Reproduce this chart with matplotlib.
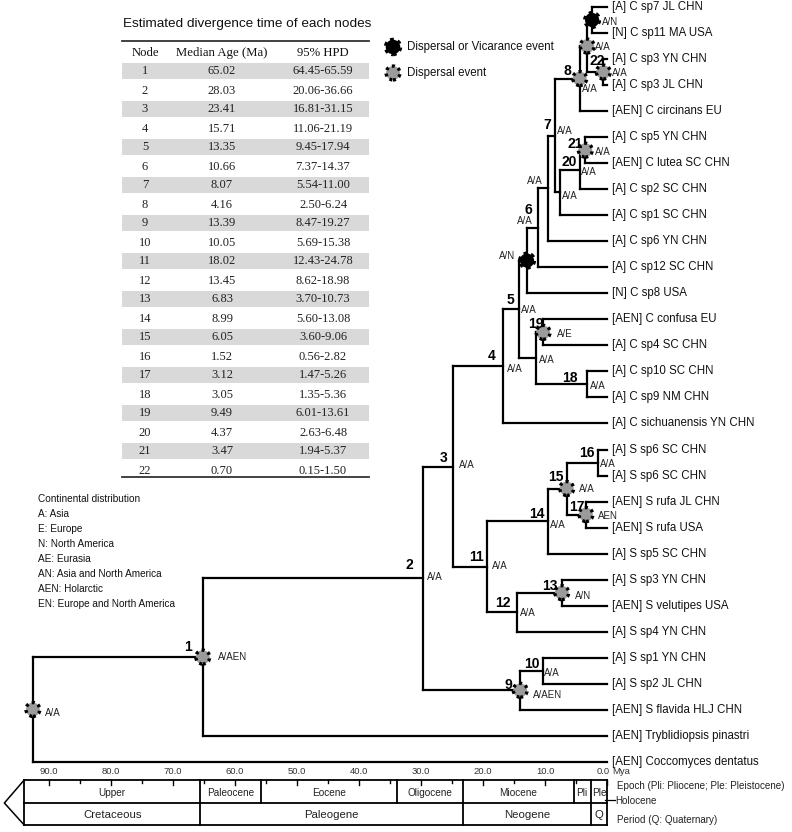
import matplotlib
matplotlib.use("Agg")
import matplotlib.pyplot as plt
from matplotlib.patches import Rectangle

plt.rcParams['font.family'] = ['Liberation Sans', 'DejaVu Sans']

W, H = 792, 832

# ---------------- data ----------------
leaves = ["[A] C sp7 JL CHN", "[N] C sp11 MA USA", "[A] C sp3 YN CHN", "[A] C sp3 JL CHN",
          "[AEN] C circinans EU", "[A] C sp5 YN CHN", "[AEN] C lutea SC CHN", "[A] C sp2 SC CHN",
          "[A] C sp1 SC CHN", "[A] C sp6 YN CHN", "[A] C sp12 SC CHN", "[N] C sp8 USA",
          "[AEN] C confusa EU", "[A] C sp4 SC CHN", "[A] C sp10 SC CHN", "[A] C sp9 NM CHN",
          "[A] C sichuanensis YN CHN", "[A] S sp6 SC CHN", "[A] S sp6 SC CHN", "[AEN] S rufa JL CHN",
          "[AEN] S rufa USA", "[A] S sp5 SC CHN", "[A] S sp3 YN CHN", "[AEN] S velutipes USA",
          "[A] S sp4 YN CHN", "[A] S sp1 YN CHN", "[A] S sp2 JL CHN", "[AEN] S flavida HLJ CHN",
          "[AEN] Tryblidiopsis pinastri", "[AEN] Coccomyces dentatus"]

node_names = ['root', 'n1', 'n2', 'n3', 'n4', 'n5', 'nAN', 'n6', 'n6a', 'n7', 'n8', 'n8a', 'nB',
              'n22', 'n7a', 'n20', 'n21', 'n5b', 'n19', 'n18', 'n11', 'n14', 'n15', 'n16',
              'n17', 'n12', 'n13', 'n9', 'n10']
node_children = [['n1', 29], ['n2', 28], ['n3', 'n9'], ['n4', 'n11'], ['n5', 16], ['nAN', 'n5b'],
                  ['n6', 11], ['n6a', 10], ['n7', 9], ['n8', 'n7a'], ['n8a', 4], ['nB', 'n22'],
                  [0, 1], [2, 3], ['n20', 8], ['n21', 7], [5, 6], ['n19', 'n18'], [12, 13],
                  [14, 15], ['n14', 'n12'], ['n15', 21], ['n16', 'n17'], [17, 18], [19, 20],
                  ['n13', 24], [22, 23], ['n10', 27], [25, 26]]
node_age = [92.6, 65.2, 29.7, 24.8, 16.8, 14.2, 12.9, 11.1, 9.5, 8.4, 4.4, 3.2, 2.4,
            0.6, 7.6, 4.4, 3.5, 11.5, 10.3, 3.2, 19.4, 9.5, 6.5, 1.5,
            3.4, 14.5, 7.3, 14.0, 10.3]
node_number = ['', '1', '2', '3', '4', '5', '', '6', '', '7', '8', '', '',
               '22', '', '20', '21', '', '19', '18', '11', '14', '15', '16',
               '17', '12', '13', '9', '10']
node_area = ['A/A', 'A/AEN', 'A/A', 'A/A', 'A/A', 'A/A', 'A/N', 'A/A', 'A/A', 'A/A', 'A/A', 'A/A', 'A/N',
             'A/A', 'A/A', 'A/A', 'A/A', 'A/A', 'A/E', 'A/A', 'A/A', 'A/A', 'A/A', 'A/A',
             'AEN', 'A/A', 'A/N', 'A/AEN', 'A/A']
node_event = ['D', 'D', '', '', '', '', 'V', '', '', '', 'D', 'D', 'V',
              'D', '', '', 'D', '', 'D', '', '', '', 'D', '',
              'D', '', 'D', 'D', '']

table_node = list(range(1, 23))
table_median = ["65.02", "28.03", "23.41", "15.71", "13.35", "10.66", "8.07", "4.16", "13.39", "10.05",
                "18.02", "13.45", "6.83", "8.99", "6.05", "1.52", "3.12", "3.05", "9.49", "4.37",
                "3.47", "0.70"]
table_hpd = ["64.45-65.59", "20.06-36.66", "16.81-31.15", "11.06-21.19", "9.45-17.94", "7.37-14.37",
             "5.54-11.00", "2.50-6.24", "8.47-19.27", "5.69-15.38", "12.43-24.78", "8.62-18.98",
             "3.70-10.73", "5.60-13.08", "3.60-9.06", "0.56-2.82", "1.47-5.26", "1.35-5.36",
             "6.01-13.61", "2.63-6.48", "1.94-5.37", "0.15-1.50"]

continents = ["Continental distribution", "A: Asia", "E: Europe", "N: North America", "AE: Eurasia",
              "AN: Asia and North America", "AEN: Holarctic", "EN: Europe and North America"]

epoch_names = ["Upper", "Paleocene", "Eocene", "Oligocene", "Miocene", "Pli", "Ple"]
epoch_bounds = [94.0, 65.6, 55.8, 33.8, 23.2, 5.4, 2.6, 0.0]
period_names = ["Cretaceous", "Paleogene", "Neogene", "Q"]
period_bounds = [94.0, 65.6, 23.2, 2.6, 0.0]
major_ticks = [90, 80, 70, 60, 50, 40, 30, 20, 10, 0]
minor_ticks = [85, 75, 65, 55, 45, 35, 25, 15, 5]

# label offsets in pixels (dx, dy down) relative to node junction
num_off = {'n1': (-15, -10), 'n2': (-14, -13), 'n3': (-10, -8.5), 'n4': (-11, -10), 'n5': (-9, -9),
           'n6': (-10, -17.5), 'n7': (-8, -10.5), 'n8': (-12, -7.5), 'n22': (-6, -11.5),
           'n20': (-11, -8), 'n21': (-10, -6.5), 'n19': (-7, -8.5), 'n18': (-17, -6.5),
           'n11': (-10, -9.5), 'n14': (-11, -7.5), 'n15': (-11, -11.5), 'n16': (-11, -9.5),
           'n17': (-9, -7.5), 'n12': (-14, -9.5), 'n13': (-12, -6.5), 'n9': (-12, -5.5),
           'n10': (-11, -7)}
area_off = {'root': (20, 3), 'n1': (30, 0), 'n2': (12, -1), 'n3': (14, -1.5), 'n4': (12, 3),
            'n5': (10, 1), 'nAN': (-20, -5), 'n6': (-13, -6.5), 'n6a': (-13, -7), 'n7': (10, -4.5),
            'n7a': (10, 4), 'n8': (10, 10.5), 'n8a': (16, 1), 'nB': (18, 2), 'n22': (17, 0.5),
            'n20': (9, 2), 'n21': (18, 1.5), 'n5b': (11, 2), 'n19': (22, 1.5), 'n18': (11, 1.5),
            'n11': (13, -0.5), 'n14': (10, 3.5), 'n15': (20, 0.5), 'n16': (10, 1.5),
            'n17': (22, 1.5), 'n12': (11, 0.5), 'n13': (21, 3.5), 'n9': (27, 4.5), 'n10': (9, 2)}

# ---------------- figure ----------------
fig = plt.figure(figsize=(W / 100, H / 100), dpi=100)
PX_PER_MY = 6.2
X0 = 607.0
xlim = (X0 / PX_PER_MY, (X0 - W) / PX_PER_MY)
Y0, DY = 7.0, 26.03

ax = fig.add_axes([0, 0, 1, 1])
ax.set_xlim(*xlim)
ax.set_ylim((H - Y0) / DY, -Y0 / DY)
ax.axis('off')

idx = {n: i for i, n in enumerate(node_names)}
ypos = {}


def get_y(c):
    if isinstance(c, int):
        return float(c)
    if c in ypos:
        return ypos[c]
    ch = node_children[idx[c]]
    ypos[c] = 0.5 * (get_y(ch[0]) + get_y(ch[-1]))
    return ypos[c]


def get_age(c):
    return 0.0 if isinstance(c, int) else node_age[idx[c]]


LW = 1.6
for n in node_names:
    i = idx[n]
    ch = node_children[i]
    a = node_age[i]
    ys = [get_y(c) for c in ch]
    ax.plot([a, a], [min(ys), max(ys)], color='black', lw=LW, solid_capstyle='projecting')
    for c in ch:
        ax.plot([a, get_age(c)], [get_y(c), get_y(c)], color='black', lw=LW,
                solid_capstyle='projecting')

for i, name in enumerate(leaves):
    ax.annotate(name, (0, i), xytext=(5, 0), textcoords='offset pixels', va='center',
                ha='left', fontsize=8.3, color='#111111')

for n in node_names:
    i = idx[n]
    x, y = node_age[i], get_y(n)
    if node_event[i] == 'D':
        ax.scatter([x], [y], s=100, facecolors='#9b9b9b', edgecolors='black', linewidths=2.4,
                   linestyles=(0, (0.9, 1.1)), zorder=5)
    elif node_event[i] == 'V':
        ax.scatter([x], [y], s=105, facecolors='black', edgecolors='black', linewidths=2.8,
                   linestyles=(0, (0.9, 1.0)), zorder=5)
    if node_number[i]:
        dx, dy = num_off[n]
        ax.annotate(node_number[i], (x, y), xytext=(dx, -dy), textcoords='offset pixels',
                    ha='center', va='center', fontsize=10, fontweight='bold', zorder=6)
    if node_area[i]:
        dx, dy = area_off[n]
        ax.annotate(node_area[i], (x, y), xytext=(dx, -dy), textcoords='offset pixels',
                    ha='center', va='center', fontsize=7, color='#222222', zorder=6)

# ---------------- timescale ----------------
ts = fig.add_axes([0, 0, 1, 1])
ts.set_xlim(*xlim)
ts.set_ylim(H, 0)
ts.axis('off')
ts.patch.set_alpha(0)
T1, T2, T3 = 780, 803, 825
lk = dict(color='black', lw=1.3, solid_capstyle='projecting')
ts.plot([epoch_bounds[0], 0], [T1, T1], **lk)
ts.plot([epoch_bounds[0], 0], [T2, T2], **lk)
ts.plot([epoch_bounds[0], 0], [T3, T3], **lk)
ts.plot([epoch_bounds[0], epoch_bounds[0] + 3.2, epoch_bounds[0]], [T1, T2, T3], color='black', lw=1.1)
for b in epoch_bounds:
    ts.plot([b, b], [T1, T2], **lk)
for b in period_bounds:
    ts.plot([b, b], [T2, T3], **lk)
for k, nm in enumerate(epoch_names):
    ts.text(0.5 * (epoch_bounds[k] + epoch_bounds[k + 1]), (T1 + T2) / 2 + 1, nm,
            ha='center', va='center', fontsize=7.2, color='#222222')
for k, nm in enumerate(period_names):
    ts.text(0.5 * (period_bounds[k] + period_bounds[k + 1]), (T2 + T3) / 2 + 1, nm,
            ha='center', va='center', fontsize=8.2, color='#222222')
for t in major_ticks:
    ts.plot([t, t], [T1, T1 + 5], color='black', lw=1.0)
    if t == 0:
        ts.text(t - 0.4, 772, f"{t:.1f}", ha='right', va='center', fontsize=6.8, color='#333333')
    else:
        ts.text(t, 772, f"{t:.1f}", ha='center', va='center', fontsize=6.8, color='#333333')
for t in minor_ticks:
    ts.plot([t, t], [T1, T1 + 3], color='black', lw=1.0)
ts.text(-0.8, 772, "Mya", ha='left', va='center', fontsize=6.8, color='#333333')
ts.text(-1.6, 786, "Epoch (Pli: Pliocene; Ple: Pleistocene)", ha='left', va='center', fontsize=7.1,
        color='#222222')
ts.plot([0.4, -1.3], [800, 800], color='black', lw=0.9)
ts.text(-1.4, 801, "Holocene", ha='left', va='center', fontsize=7.1, color='#222222')
ts.text(-1.6, 820, "Period (Q: Quaternary)", ha='left', va='center', fontsize=7.1, color='#222222')

# ---------------- overlays in pixel coordinates ----------------
ov = fig.add_axes([0, 0, 1, 1])
ov.set_xlim(0, W)
ov.set_ylim(H, 0)
ov.axis('off')
ov.patch.set_alpha(0)

# legend of events
ov.scatter([393], [47], s=110, facecolors='black', edgecolors='black', linewidths=2.8,
           linestyles=(0, (0.9, 1.0)), zorder=5)
ov.scatter([393], [73], s=100, facecolors='#9b9b9b', edgecolors='black', linewidths=2.4,
           linestyles=(0, (0.9, 1.1)), zorder=5)
ov.text(407, 47, "Dispersal or Vicarance event", ha='left', va='center', fontsize=8.3, color='#111111')
ov.text(407, 73, "Dispersal event", ha='left', va='center', fontsize=8.3, color='#111111')

# continental distribution
for k, s in enumerate(continents):
    ov.text(38, 499 + 15.0 * k, s, ha='left', va='center', fontsize=7.2, color='#111111')

# table
TL, TR = 122, 369
ov.text(247, 24, "Estimated divergence time of each nodes", ha='center', va='center',
        fontsize=9.7, color='#111111')
ov.plot([TL, TR], [41, 41], color='#333333', lw=1.3)
ser = ['Liberation Serif', 'DejaVu Serif']
cx = [145, 222, 323]
for x, s in zip(cx, ["Node", "Median Age (Ma)", "95% HPD"]):
    ov.text(x, 53, s, ha='center', va='center', fontsize=9.2, family=ser, color='#111111')
for k in range(len(table_node)):
    y = 71 + 19.0 * k
    if k % 2 == 0:
        ov.add_patch(Rectangle((TL, y - 8), TR - TL, 16, facecolor='#d9d9d9', edgecolor='none',
                               zorder=0))
    for x, s in zip(cx, [str(table_node[k]), table_median[k], table_hpd[k]]):
        ov.text(x, y + 0.5, s, ha='center', va='center', fontsize=9, family=ser, color='#222222')
ov.plot([TL, TR], [477, 477], color='#333333', lw=1.3)

fig.savefig("out.png", dpi=100)
